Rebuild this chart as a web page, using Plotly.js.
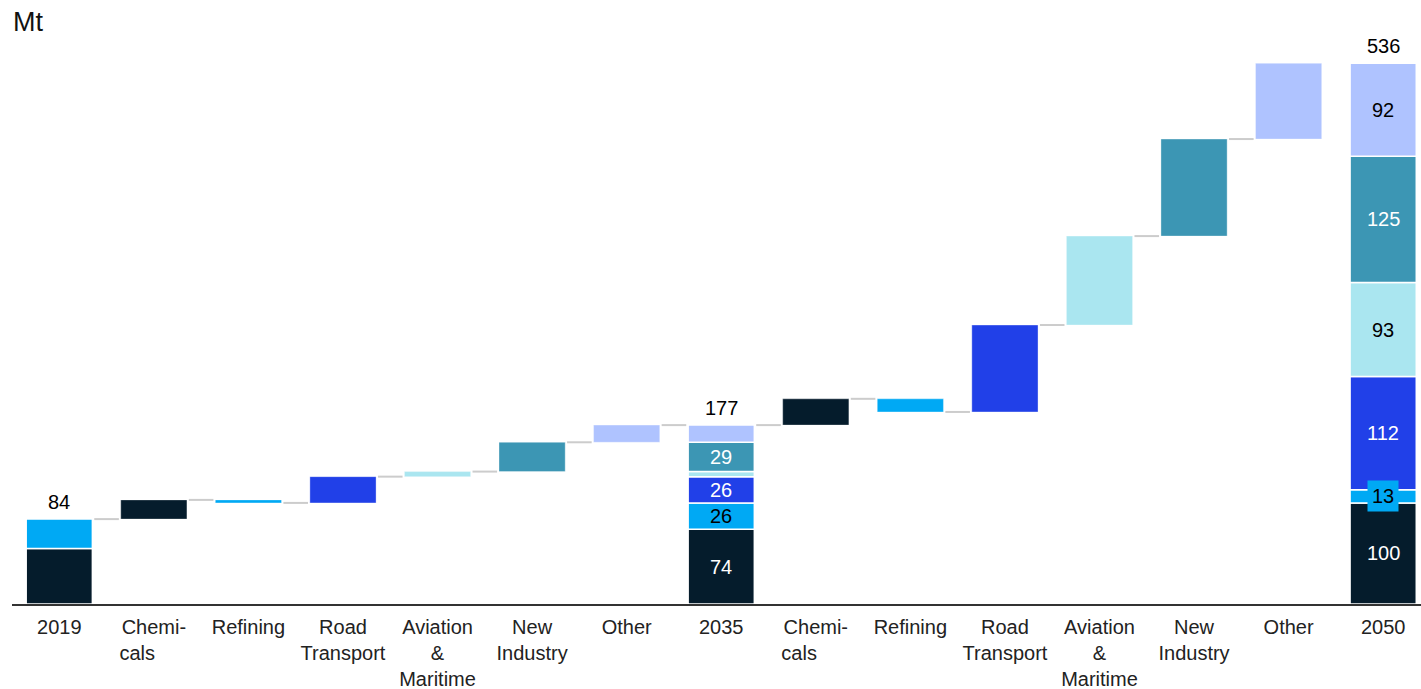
<!DOCTYPE html>
<html>
<head>
<meta charset="utf-8">
<script src="https://cdn.plot.ly/plotly-3.0.1.min.js"></script>
<style>html,body{margin:0;padding:0;background:#fff;}#chart{width:1421px;height:689px;}</style>
</head>
<body>
<div id="chart"></div>
<script>
// ---- Data ----
const segments = ["Chemicals", "Refining", "Road Transport", "Aviation & Maritime", "New Industry", "Other"];
const colors = ["#051c2c", "#00a9f4", "#2140e8", "#aae6f0", "#3c96b4", "#afc3ff"];
const textColors = ["#ffffff", "#000000", "#ffffff", "#000000", "#ffffff", "#000000"];
const v2019 = [55, 29, 0, 0, 0, 0];
const v2035 = [74, 26, 26, 5, 29, 17];
const v2050 = [100, 13, 112, 93, 125, 92];
const lab2035 = ["74", "26", "26", "", "29", ""];
const lab2050 = ["100", "13", "112", "93", "125", "92"];
const totalLabels = ["84", "177", "536"];
const NB = "\u00a0\u00a0\u00a0\u00a0\u00a0\u00a0";
const tickLabels = ["2019", "Chemi-<br>cals" + NB, "Refining", "Road<br>Transport", "Aviation<br>&<br>Maritime", "New<br>Industry", "Other",
                    "2035", "Chemi-<br>cals" + NB, "Refining", "Road<br>Transport", "Aviation<br>&<br>Maritime", "New<br>Industry", "Other", "2050"];

// ---- Build ----
const W = 0.7;
const FONT = "Liberation Sans, Arial, sans-serif";
const sum = a => a.reduce((s, v) => s + v, 0);
const stacks = [v2019, v2035, v2050];
const stackX = [0, 7, 14];
const traces = [];
const annotations = [];

const d1 = segments.map((_, c) => v2035[c] - v2019[c]);
const d2 = segments.map((_, c) => v2050[c] - v2035[c]);
function cumBefore(arr, c) { let s = 0; for (let k = 0; k < c; k++) s += arr[k]; return s; }

segments.forEach((name, c) => {
  const xs = [], ys = [], bs = [], lw = [], lc = [];
  stacks.forEach((st, si) => {
    if (st[c] > 0) { xs.push(stackX[si]); ys.push(st[c]); bs.push(cumBefore(st, c)); lw.push(1.5); lc.push("#ffffff"); }
  });
  xs.push(1 + c); ys.push(d1[c]); bs.push(sum(v2019) + cumBefore(d1, c)); lw.push(1); lc.push("rgba(255,255,255,0.35)");
  xs.push(8 + c); ys.push(d2[c]); bs.push(sum(v2035) + cumBefore(d2, c)); lw.push(1); lc.push("rgba(255,255,255,0.35)");
  traces.push({
    type: "bar", name: name, x: xs, y: ys, base: bs, width: W,
    marker: { color: colors[c], line: { color: lc, width: lw } },
    hoverinfo: "skip", showlegend: false
  });
});

// connectors
const levels = [];
levels.push(sum(v2019));
let run = sum(v2019);
d1.forEach(d => { run += d; levels.push(run); });
levels.push(sum(v2035));
run = sum(v2035);
d2.forEach(d => { run += d; levels.push(run); });
const cx = [], cy = [];
for (let i = 0; i < levels.length - 1; i++) {
  cx.push(i + W / 2 + 0.02, i + 1 - W / 2 - 0.02, null);
  cy.push(levels[i], levels[i], null);
}
traces.push({ type: "scatter", mode: "lines", x: cx, y: cy, line: { color: "#cccccc", width: 2 }, hoverinfo: "skip", showlegend: false });

// segment labels
function addLabels(st, labs, x) {
  st.forEach((v, c) => {
    if (!labs[c]) return;
    const ann = {
      x: x, y: cumBefore(st, c) + v / 2, xref: "x", yref: "y", text: labs[c], showarrow: false,
      font: { family: FONT, size: 20, color: textColors[c] }
    };
    if (v < 20) { ann.bgcolor = colors[c]; ann.borderpad = 4; }
    annotations.push(ann);
  });
}
addLabels(v2035, lab2035, 7);
addLabels(v2050, lab2050, 14);
stacks.forEach((st, si) => {
  annotations.push({
    x: stackX[si], y: sum(st), xref: "x", yref: "y", text: totalLabels[si], showarrow: false,
    yanchor: "bottom", yshift: 4, font: { family: FONT, size: 20, color: "#000" }
  });
});
annotations.push({
  xref: "paper", yref: "paper", x: 0, y: 1, xanchor: "left", yanchor: "middle", yshift: 18, xshift: -1,
  text: "Mt", showarrow: false, font: { family: FONT, size: 27, color: "#111" }
});

const layout = {
  width: 1421, height: 689,
  margin: { l: 12, r: 0, t: 40, b: 85 },
  paper_bgcolor: "#fff", plot_bgcolor: "#fff",
  barmode: "overlay",
  xaxis: {
    range: [-0.5, 14.4], tickmode: "array", tickvals: tickLabels.map((_, i) => i), ticktext: tickLabels,
    showgrid: false, zeroline: false, showline: true, linecolor: "#333", linewidth: 2,
    ticks: "", ticklabelstandoff: 4, tickfont: { family: FONT, size: 20, color: "#222" }, fixedrange: true
  },
  yaxis: { range: [0, 558], visible: false, showgrid: false, zeroline: false, fixedrange: true },
  annotations: annotations
};

Plotly.newPlot("chart", traces, layout, { staticPlot: true, displayModeBar: false });
</script>
</body>
</html>
